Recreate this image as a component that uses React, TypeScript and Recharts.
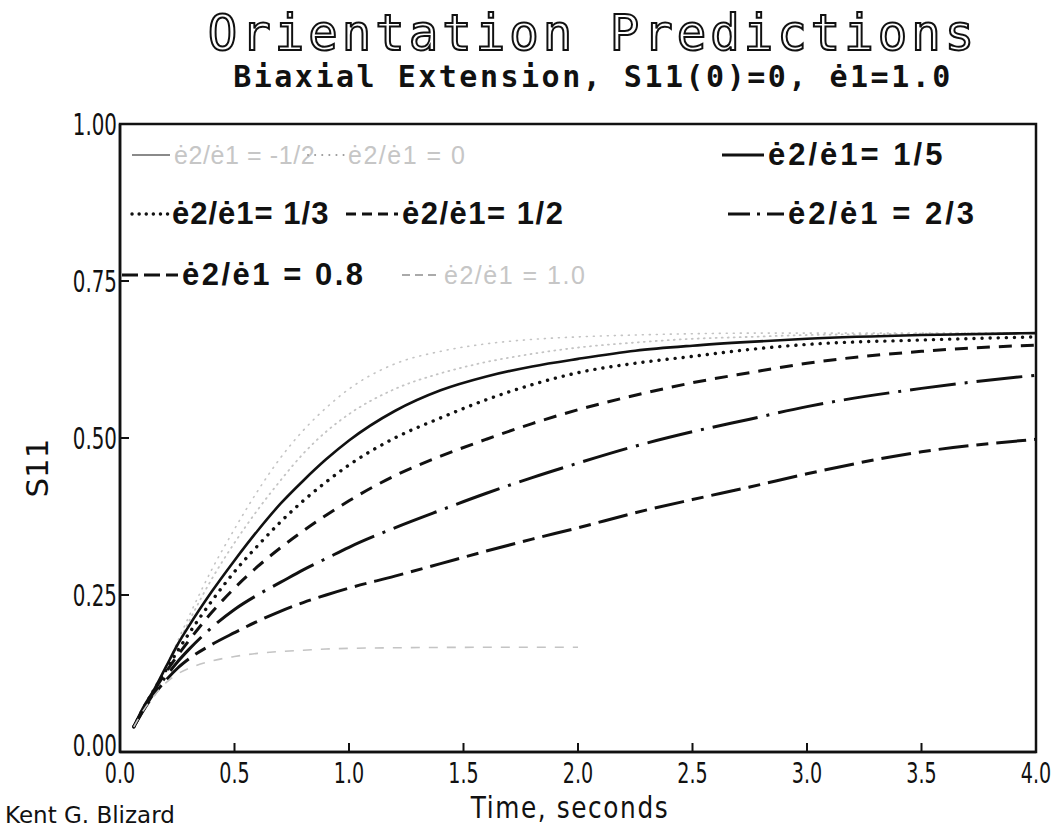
import { LineChart, Line, XAxis, YAxis, ReferenceArea } from "recharts";

const times = [
  0.06, 0.1, 0.15, 0.2, 0.25, 0.3, 0.4, 0.5, 0.6, 0.7, 0.8, 0.9, 1.0, 1.2, 1.4,
  1.6, 1.8, 2.0, 2.25, 2.5, 2.75, 3.0, 3.5, 4.0,
];

// S11 for each strain-rate ratio e2/e1
const sMinusHalf = [
  0.04, 0.07, 0.1, 0.135, 0.175, 0.215, 0.29, 0.355, 0.415, 0.468, 0.512, 0.548,
  0.578, 0.618, 0.638, 0.65, 0.657, 0.661, 0.664, 0.666, 0.667, 0.667, 0.667, 0.667,
];
const sZero = [
  0.04, 0.07, 0.1, 0.135, 0.17, 0.207, 0.275, 0.333, 0.385, 0.432, 0.475, 0.51,
  0.538, 0.578, 0.603, 0.621, 0.634, 0.644, 0.652, 0.658, 0.661, 0.664, 0.666, 0.667,
];
const sFifth = [
  0.04, 0.07, 0.1, 0.135, 0.17, 0.2, 0.255, 0.305, 0.352, 0.395, 0.432, 0.466,
  0.496, 0.543, 0.576, 0.598, 0.614, 0.626, 0.639, 0.647, 0.653, 0.658, 0.664, 0.667,
];
const sThird = [
  0.04, 0.068, 0.1, 0.13, 0.16, 0.188, 0.24, 0.287, 0.328, 0.366, 0.4, 0.43,
  0.457, 0.5, 0.532, 0.561, 0.585, 0.604, 0.619, 0.63, 0.641, 0.649, 0.656, 0.661,
];
const sHalf = [
  0.04, 0.067, 0.098, 0.127, 0.153, 0.177, 0.222, 0.261, 0.295, 0.325, 0.352,
  0.377, 0.4, 0.44, 0.471, 0.498, 0.523, 0.545, 0.568, 0.588, 0.604, 0.619, 0.638, 0.648,
];
const sTwoThirds = [
  0.04, 0.066, 0.095, 0.12, 0.143, 0.163, 0.198, 0.227, 0.25, 0.27, 0.29, 0.308,
  0.326, 0.357, 0.385, 0.412, 0.437, 0.46, 0.487, 0.51, 0.53, 0.55, 0.579, 0.6,
];
const sPointEight = [
  0.04, 0.065, 0.092, 0.114, 0.133, 0.148, 0.171, 0.19, 0.208, 0.224, 0.238,
  0.25, 0.261, 0.28, 0.3, 0.32, 0.339, 0.357, 0.381, 0.402, 0.422, 0.443, 0.478, 0.498,
];
const sOne = [
  0.04, 0.065, 0.09, 0.11, 0.124, 0.133, 0.145, 0.152, 0.157, 0.16, 0.162,
  0.164, 0.165, 0.166, 0.1665, 0.1667, 0.1667, 0.1667, null, null, null, null, null, null,
];

const xTicks = [0, 0.5, 1, 1.5, 2, 2.5, 3, 3.5, 4];
const yTicks = [0, 0.25, 0.5, 0.75, 1];

const legendLabels = {
  mh: "ė2/ė1 = -1/2",
  z: "ė2/ė1 = 0",
  f: "ė2/ė1= 1/5",
  t: "ė2/ė1= 1/3",
  h: "ė2/ė1= 1/2",
  tt: "ė2/ė1 = 2/3",
  pe: "ė2/ė1 = 0.8",
  one: "ė2/ė1 = 1.0",
};

const data = times.map((t, i) => ({
  t,
  mh: sMinusHalf[i],
  z: sZero[i],
  f: sFifth[i],
  t3: sThird[i],
  h: sHalf[i],
  tt: sTwoThirds[i],
  pe: sPointEight[i],
  one: sOne[i],
}));

const FAINT = "#c4c4c4";
const INK = "#111";

// series styling
const styles: Record<string, { stroke: string; width: number; dash?: string; cap?: "round" | "butt" }> = {
  mh: { stroke: FAINT, width: 1.6, dash: "1 6", cap: "round" },
  z: { stroke: FAINT, width: 1.8, dash: "1 5", cap: "round" },
  f: { stroke: INK, width: 2.6 },
  t3: { stroke: INK, width: 3.4, dash: "0.1 8", cap: "round" },
  h: { stroke: INK, width: 3, dash: "13 9" },
  tt: { stroke: INK, width: 3, dash: "46 9 3 9" },
  pe: { stroke: INK, width: 3, dash: "30 8 12 8" },
  one: { stroke: FAINT, width: 1.6, dash: "9 9" },
};

const legendItems = [
  { key: "mh", label: legendLabels.mh, faint: true, left: 130, row: 0, sw: 42, color: "#8a8a8a", dash: undefined, ls: 0.6 },
  { key: "z", label: legendLabels.z, faint: true, left: 306, row: 0, sw: 40, color: "#9a9a9a", dash: "0.1 7", ls: 1.5 },
  { key: "f", label: legendLabels.f, left: 720, row: 0, sw: 46, color: INK, dash: undefined, ls: 3 },
  { key: "t3", label: legendLabels.t, left: 130, row: 1, sw: 40, color: INK, dash: "0.1 7", ls: 1 },
  { key: "h", label: legendLabels.h, left: 344, row: 1, sw: 56, color: INK, dash: "10 6", ls: 1.5 },
  { key: "tt", label: legendLabels.tt, left: 726, row: 1, sw: 60, color: INK, dash: "22 7 3 7", ls: 3 },
  { key: "pe", label: legendLabels.pe, left: 120, row: 2, sw: 60, color: INK, dash: "16 6", ls: 2.5 },
  { key: "one", label: legendLabels.one, faint: true, left: 400, row: 2, sw: 42, color: "#aaa", dash: "8 5", ls: 1.5 },
];
const rowY = [155, 214, 275];

const narrow = "'DejaVu Sans', sans-serif";

function XTick({ x, y, payload }: any) {
  const v = payload.value as number;
  const inner = v > 0 && v < 4;
  return (
    <g>
      {inner && <line x1={x} x2={x} y1={y} y2={y - 9} stroke={INK} strokeWidth={2} />}
      <text
        transform={`translate(${x},${y + 31}) scale(0.66,1)`}
        textAnchor="middle"
        fontSize={29}
        fontFamily={narrow}
        fill={INK}>
        {v.toFixed(1)}
      </text>
    </g>
  );
}

function YTick({ x, y, payload }: any) {
  const v = payload.value as number;
  const inner = v > 0 && v < 1;
  return (
    <g>
      {inner && <line x1={x} x2={x + 9} y1={y} y2={y} stroke={INK} strokeWidth={2} />}
      <text
        transform={`translate(${x - 3},${y + (v === 0 ? 4 : 11)}) scale(0.64,1)`}
        textAnchor="end"
        fontSize={31}
        fontFamily={narrow}
        fill={INK}>
        {v.toFixed(2)}
      </text>
    </g>
  );
}

function LegendItem({ item }: { item: (typeof legendItems)[number] }) {
  const st = styles[item.key];
  return (
    <div
      style={{
        position: "absolute",
        left: item.left,
        top: rowY[item.row] - 20,
        height: 40,
        display: "flex",
        alignItems: "center",
        whiteSpace: "nowrap",
      }}>
      <svg width={item.sw} height={10}>
        <line
          x1={2}
          x2={item.sw - 2}
          y1={5}
          y2={5}
          stroke={item.color}
          strokeWidth={item.faint ? 2 : Math.max(st.width, 2.8)}
          strokeDasharray={item.dash}
          strokeLinecap={item.dash && item.dash.startsWith("0.1") ? "round" : "butt"}
        />
      </svg>
      <span
        style={{
          fontFamily: "'Liberation Sans', Arial, sans-serif",
          fontWeight: item.faint ? 400 : 700,
          fontSize: item.faint ? 25 : 31,
          letterSpacing: item.ls,
          color: item.faint ? "#c6c6c6" : INK,
          marginLeft: 2,
        }}>
        {item.label}
      </span>
    </div>
  );
}

export default function App() {
  return (
    <div
      style={{
        position: "absolute",
        left: 0,
        top: 0,
        width: 1063,
        height: 828,
        background: "#fff",
        overflow: "hidden",
      }}>
      <LineChart
        width={1063}
        height={828}
        data={data}
        margin={{ top: 124, right: 27, bottom: 46, left: 60 }}>
        <ReferenceArea x1={0} x2={4} y1={0} y2={1} fill="none" stroke={INK} strokeWidth={2.5} />
        <XAxis
          dataKey="t"
          type="number"
          domain={[0, 4]}
          ticks={xTicks}
          interval={0}
          height={30}
          axisLine={{ stroke: INK, strokeWidth: 2.5 }}
          tickLine={false}
          tickSize={0}
          tickMargin={0}
          tick={<XTick />}
        />
        <YAxis
          type="number"
          domain={[0, 1]}
          ticks={yTicks}
          interval={0}
          width={60}
          axisLine={{ stroke: INK, strokeWidth: 2.5 }}
          tickLine={false}
          tickSize={0}
          tickMargin={0}
          tick={<YTick />}
        />
        {Object.keys(styles).map((k) => (
          <Line
            key={k}
            dataKey={k}
            type="monotone"
            stroke={styles[k].stroke}
            strokeWidth={styles[k].width}
            strokeDasharray={styles[k].dash}
            strokeLinecap={styles[k].cap ?? "butt"}
            dot={false}
            activeDot={false}
            connectNulls={false}
            isAnimationActive={false}
          />
        ))}
      </LineChart>

      {legendItems.map((it) => (
        <LegendItem key={it.key} item={it} />
      ))}

      <svg
        width={1063}
        height={828}
        style={{ position: "absolute", left: 0, top: 0, pointerEvents: "none" }}>
        <text
          x={593}
          y={50}
          textAnchor="middle"
          fontFamily="'DejaVu Sans Mono', monospace"
          fontSize={49}
          letterSpacing={4}
          fill="#fff"
          stroke={INK}
          strokeWidth={2}>
          Orientation Predictions
        </text>
        <text
          x={593}
          y={87}
          textAnchor="middle"
          fontFamily="'DejaVu Sans Mono', monospace"
          fontWeight={700}
          fontSize={30}
          letterSpacing={2.5}
          fill={INK}>
          Biaxial Extension, S11(0)=0, ė1=1.0
        </text>
        <text
          transform="translate(48,468) rotate(-90)"
          textAnchor="middle"
          fontFamily={narrow}
          fontSize={31}
          fill={INK}>
          S11
        </text>
        <text
          transform="translate(570,818) scale(0.8,1)"
          textAnchor="middle"
          fontFamily={narrow}
          fontSize={31}
          letterSpacing={2}
          fill={INK}>
          Time, seconds
        </text>
        <text
          transform="translate(5,823)"
          fontFamily={narrow}
          fontSize={23}
          fill={INK}>
          Kent G. Blizard
        </text>
      </svg>
    </div>
  );
}
